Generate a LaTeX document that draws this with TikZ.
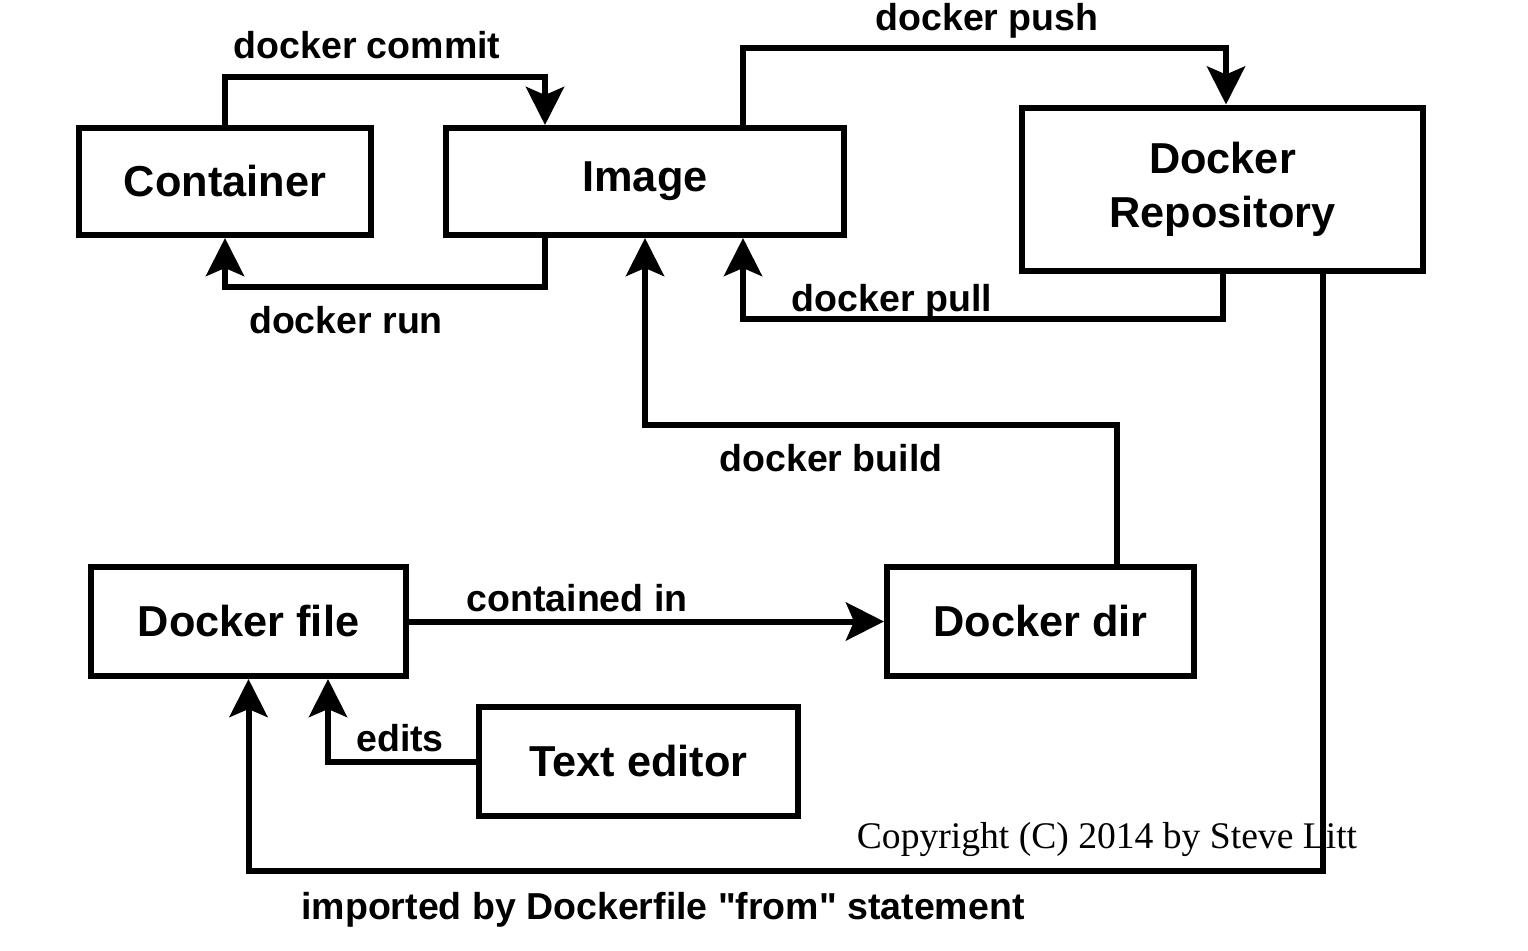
\documentclass[tikz,border=0pt]{standalone}
\usepackage{fontspec}
\setmainfont{Liberation Sans}[Ligatures=TeXOff]
\newfontfamily\serifcopy{Liberation Serif}
\usetikzlibrary{arrows.meta}
\begin{document}
\begin{tikzpicture}[x=1pt,y=-1pt,
 box/.style={draw, line width=6pt, font=\fontsize{43.3}{54}\selectfont\bfseries, inner sep=0pt, align=center},
 conn/.style={line width=6pt, line join=miter, -{Stealth[length=38pt,width=38pt,inset=8pt]}},
 lbl/.style={font=\fontsize{37.5}{44}\selectfont\bfseries, anchor=base, inner sep=0pt}]
\useasboundingbox[fill=white] (0,0) rectangle (1528,950);

\node[box, minimum width=292pt, minimum height=107pt] (ct) at (225,181.5) {Container};
\node[box, minimum width=398pt, minimum height=107pt] (im) at (645,181.5) {Image};
\node[box, minimum width=401pt, minimum height=163pt] (rep) at (1222.5,189) {Docker\\Repository};
\node[box, minimum width=315pt, minimum height=109pt] (df) at (248.5,621.5) {Docker file};
\node[box, minimum width=307pt, minimum height=109pt] (dd) at (1040.5,621.5) {Docker dir};
\node[box, minimum width=319pt, minimum height=109pt] (te) at (638.5,761.5) {Text editor};

\node[font=\fontsize{37.6}{44}\selectfont\serifcopy, anchor=base, inner sep=0pt] (copy) at (1107,848) {Copyright (C) 2014 by Steve Litt};

\draw[conn] (ct.north) -- ++(0,-48.5) -| ([xshift=-100pt]im.north);
\draw[conn] ([xshift=-100pt]im.south) -- ++(0,49) -| (ct.south);
\draw[conn] ([xshift=98pt]im.north) -- ++(0,-76.5) -| ([xshift=3.5pt]rep.north);
\draw[conn] ([yshift=1.5pt]rep.south) -- ++(0,46.5) -| ([xshift=98pt]im.south);
\draw[conn] ([xshift=76.5pt]dd.north) -- ++(0,-139) -| (im.south);
\draw[conn] ([xshift=100.5pt,yshift=1.5pt]rep.south) -- ++(0,598.5) -| (df.south);
\draw[conn] (df.east) -- (dd.west);
\draw[conn] (te.west) -| ([xshift=79.5pt]df.south);

\node[lbl] (lcommit) at (367,59) {docker commit};
\node[lbl] (lrun) at (346,333) {docker run};
\node[lbl] (lpush) at (987,31) {docker push};
\node[lbl] (lpull) at (892,311) {docker pull};
\node[lbl] (lbuild) at (831,471) {docker build};
\node[lbl] (lcont) at (577,611) {contained in};
\node[lbl] (ledits) at (400,751) {edits};
\node[lbl] (limp) at (663,919) {imported by Dockerfile "from" statement};
\end{tikzpicture}
\end{document}
